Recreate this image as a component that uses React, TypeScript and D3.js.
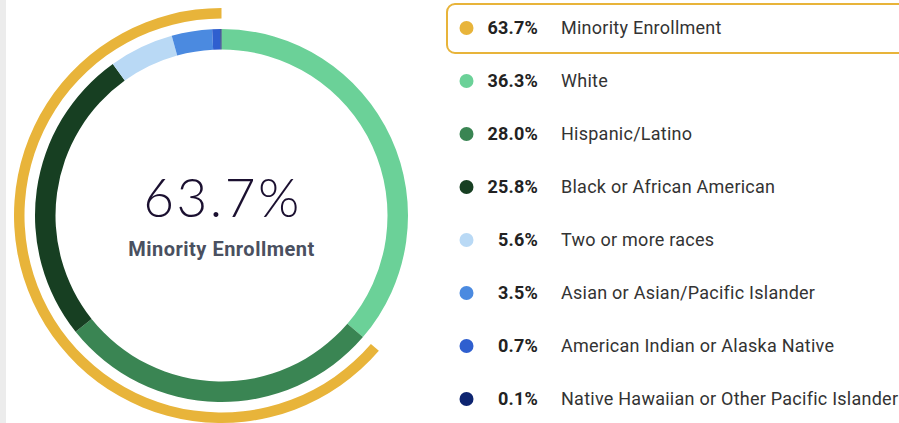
import React from "react";
import * as d3 from "d3";

const categories = [
  "White",
  "Hispanic/Latino",
  "Black or African American",
  "Two or more races",
  "Asian or Asian/Pacific Islander",
  "American Indian or Alaska Native",
  "Native Hawaiian or Other Pacific Islander",
];
const values = [36.3, 28.0, 25.8, 5.6, 3.5, 0.7, 0.1];
const colors = ["#6bd198", "#3a8553", "#173f22", "#b9d9f5", "#4b8ae0", "#2f5fcf", "#0d2470"];
const minorityLabel = "Minority Enrollment";
const minorityValue = 63.7;
const minorityColor = "#e8b43a";

const W = 899;
const H = 423;

export default function App() {
  const cx = 221.5;
  const cy = 215.5;
  const pie = d3.pie<number>().sort(null).value((d) => d);
  const arcs = pie(values);
  const ring = d3.arc<d3.PieArcDatum<number>>().innerRadius(166).outerRadius(186.5);
  const angle = d3.scaleLinear().domain([0, 100]).range([0, 2 * Math.PI]);
  const goldArc = d3
    .arc()
    .innerRadius(197)
    .outerRadius(207.5)
    .startAngle(angle(100 - minorityValue))
    .endAngle(angle(100))({} as any);

  const legendItems = [
    { label: minorityLabel, value: minorityValue, color: minorityColor },
    ...categories.map((c, i) => ({ label: c, value: values[i], color: colors[i] })),
  ];
  const rowY = d3.scaleLinear().domain([0, 1]).range([28, 81]);

  return (
    <svg
      width={W}
      height={H}
      style={{ position: "absolute", left: 0, top: 0, background: "#fff" }}
      fontFamily="Roboto, sans-serif"
    >
      <rect x={0} y={0} width={6} height={H} fill="#ececec" />
      <g transform={`translate(${cx},${cy})`}>
        <path d={goldArc as string} fill={minorityColor} />
        {arcs.map((a, i) => (
          <path key={i} d={ring(a) as string} fill={colors[i]} />
        ))}
        <text
          x={1}
          y={1.5}
          textAnchor="middle"
          fontFamily="Lato, sans-serif"
          fontWeight={300}
          fontSize={53}
          letterSpacing={2.5}
          fill="#1b1030"
        >
          {minorityValue.toFixed(1)}%
        </text>
        <text
          x={0}
          y={40.5}
          textAnchor="middle"
          fontFamily="Roboto, sans-serif"
          fontWeight={700}
          fontSize={20}
          letterSpacing={0.5}
          fill="#4a5060"
        >
          {minorityLabel}
        </text>
      </g>
      <rect
        x={447}
        y={4}
        width={470}
        height={49}
        rx={8}
        ry={8}
        fill="none"
        stroke={minorityColor}
        strokeWidth={2}
      />
      {legendItems.map((d, i) => {
        const y = rowY(i);
        return (
          <g key={i}>
            <circle cx={466.5} cy={y} r={7} fill={d.color} />
            <text
              x={538}
              y={y + 6}
              textAnchor="end"
              fontSize={18}
              letterSpacing={0.2}
              fontWeight={700}
              fill="#222"
            >
              {d.value.toFixed(1)}%
            </text>
            <text x={561} y={y + 6} fontSize={18} letterSpacing={0.25} fill="#333">
              {d.label}
            </text>
          </g>
        );
      })}
    </svg>
  );
}
